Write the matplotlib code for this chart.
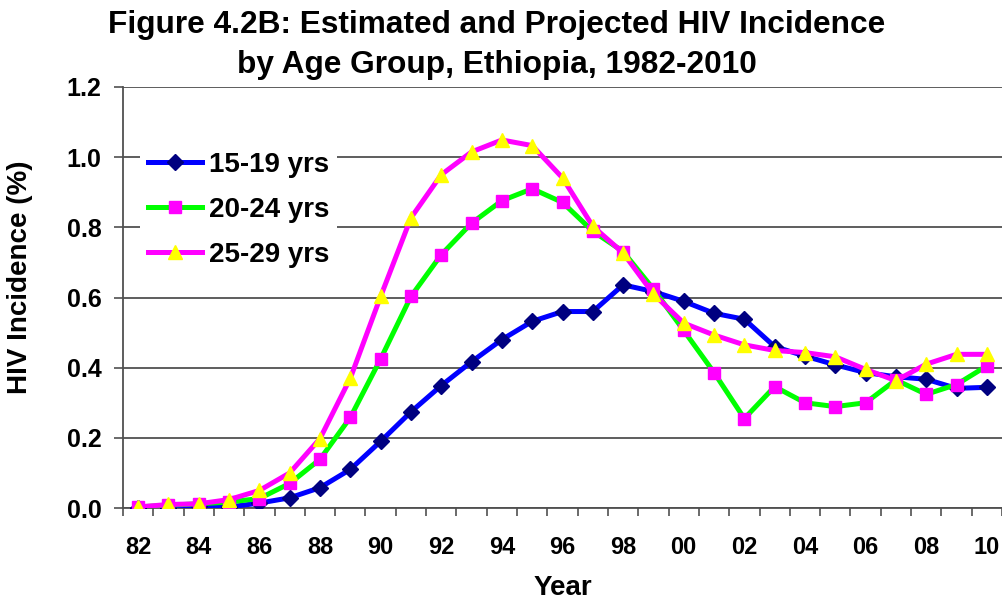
import matplotlib
matplotlib.use("Agg")
import matplotlib.pyplot as plt
import numpy as np

plt.rcParams['font.family'] = ['Liberation Sans', 'DejaVu Sans']
plt.rcParams['font.weight'] = 'bold'

# Datos
years = list(range(1982, 2011))
inc_15_19 = [0.00, 0.00, 0.005, 0.003, 0.014, 0.029, 0.058, 0.11, 0.19, 0.274,
             0.349, 0.417, 0.48, 0.532, 0.56, 0.56, 0.636, 0.617, 0.589, 0.555,
             0.538, 0.46, 0.433, 0.408, 0.386, 0.374, 0.367, 0.341, 0.344]
inc_20_24 = [0.003, 0.008, 0.012, 0.017, 0.027, 0.07, 0.139, 0.258, 0.425, 0.603,
             0.722, 0.812, 0.876, 0.91, 0.871, 0.789, 0.731, 0.624, 0.506, 0.386,
             0.255, 0.346, 0.30, 0.289, 0.30, 0.365, 0.324, 0.352, 0.405]
inc_25_29 = [0.003, 0.01, 0.012, 0.024, 0.05, 0.10, 0.198, 0.37, 0.603, 0.827,
             0.95, 1.015, 1.049, 1.033, 0.941, 0.803, 0.727, 0.61, 0.527, 0.493,
             0.465, 0.449, 0.443, 0.431, 0.395, 0.363, 0.41, 0.438, 0.438]
series_names = ['15-19 yrs', '20-24 yrs', '25-29 yrs']

fig = plt.figure(figsize=(10.03, 6.01), dpi=100)
ax = fig.add_axes([123/1003, 93/601, 879/1003, 421/601])

x = np.arange(len(years))

ax.plot(x, inc_15_19, '-', color='#0000FF', linewidth=3.6, marker='D', markersize=8.5,
        markerfacecolor='#000080', markeredgecolor='#000080', label=series_names[0], zorder=3)
ax.plot(x, inc_20_24, '-', color='#00FF00', linewidth=3.6, marker='s', markersize=8.5,
        markerfacecolor='#FF00FF', markeredgecolor='#FF00FF', label=series_names[1], zorder=4)
ax.plot(x, inc_25_29, '-', color='#FF00FF', linewidth=3.6, marker='^', markersize=10.5,
        markerfacecolor='#FFFF00', markeredgecolor='#FFFF00', label=series_names[2], zorder=5)

#Ejes
ax.set_xlim(-0.5, len(years) - 0.5)
ax.set_ylim(0, 1.2)
ax.set_yticks(np.arange(0, 1.21, 0.2))
ax.set_yticklabels(['%.1f' % v for v in np.arange(0, 1.21, 0.2)], fontsize=18, fontweight='bold')
ax.set_xticks(x[::2])
ax.set_xticklabels(['%02d' % (y % 100) for y in years[::2]], fontsize=17, fontweight='bold')
ax.set_xticks(np.arange(-0.5, len(years), 1), minor=True)
ax.tick_params(axis='x', which='major', length=0, pad=20)
ax.tick_params(axis='x', which='minor', length=5.5, width=1.2, direction='out', color='#505050')
ax.tick_params(axis='y', length=6.5, width=1.2, pad=9, color='#505050')

ax.grid(axis='y', color='#505050', linewidth=1.3)
ax.set_axisbelow(True)
for s in ['top', 'right']:
    ax.spines[s].set_visible(False)
ax.spines['left'].set_color('#505050')
ax.spines['bottom'].set_color('#505050')
ax.spines['left'].set_linewidth(1.3)
ax.spines['bottom'].set_linewidth(1.3)

ax.set_xlabel('Year', fontsize=20, fontweight='bold', labelpad=12)
ax.set_ylabel('HIV Incidence (%)', fontsize=20, fontweight='bold')
ax.yaxis.set_label_coords(-0.102, 0.549)

fig.text(0.4955, 1 - 25/601, 'Figure 4.2B: Estimated and Projected HIV Incidence',
         fontsize=22.8, fontweight='bold', ha='center', va='center')
fig.text(0.4955, 1 - 65/601, 'by Age Group, Ethiopia, 1982-2010',
         fontsize=22.8, fontweight='bold', ha='center', va='center')

leg = ax.legend(loc='upper left', bbox_to_anchor=(0.0193, 0.866), frameon=True, fontsize=20,
                handlelength=1.95, handletextpad=0.22, borderaxespad=0, borderpad=0.3,
                labelspacing=0.68)
leg.get_frame().set_edgecolor('none')
leg.get_frame().set_facecolor('white')
leg.get_frame().set_alpha(1)
leg.get_frame().set_boxstyle('square', pad=0)

fig.savefig('out.png', dpi=100)
